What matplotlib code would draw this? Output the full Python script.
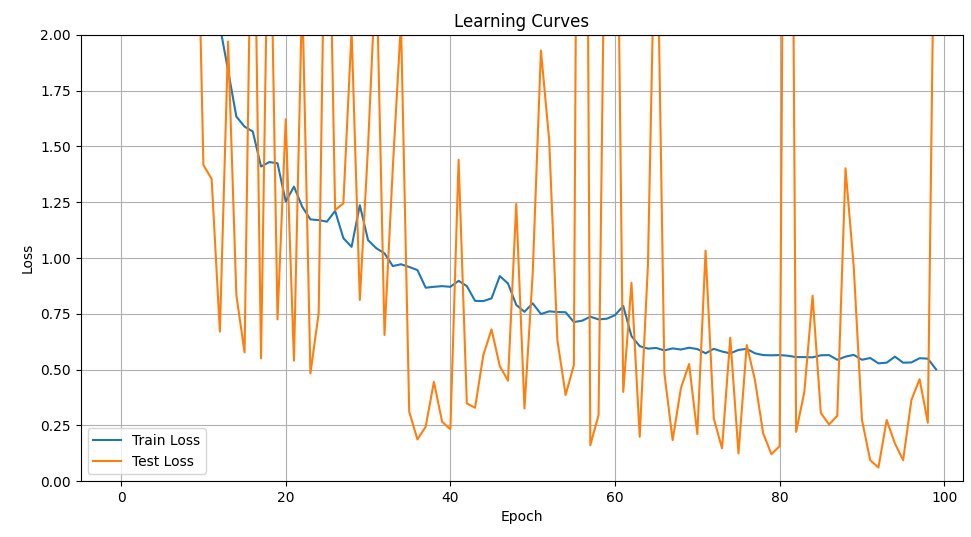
import matplotlib
matplotlib.use("Agg")
import matplotlib.pyplot as plt
import numpy as np

# per-epoch losses (values above 2 are clipped by the y-limit)
train_loss = [4.80, 4.10, 3.70, 3.30, 3.00, 2.80, 2.60, 2.50, 2.40, 2.30,
              2.20, 2.12, 2.04, 1.84, 1.634, 1.589, 1.567, 1.41, 1.43, 1.425,
              1.253, 1.32, 1.23, 1.173, 1.17, 1.163, 1.211, 1.089, 1.05, 1.237,
              1.08, 1.044, 1.021, 0.964, 0.972, 0.96, 0.946, 0.867, 0.871, 0.874,
              0.871, 0.898, 0.874, 0.808, 0.807, 0.819, 0.919, 0.886, 0.79, 0.759,
              0.797, 0.749, 0.761, 0.758, 0.757, 0.713, 0.719, 0.737, 0.725, 0.728,
              0.744, 0.785, 0.65, 0.605, 0.594, 0.597, 0.586, 0.595, 0.59, 0.598,
              0.592, 0.573, 0.593, 0.581, 0.573, 0.588, 0.593, 0.573, 0.565, 0.564,
              0.565, 0.562, 0.556, 0.556, 0.555, 0.564, 0.565, 0.544, 0.558, 0.566,
              0.544, 0.552, 0.528, 0.531, 0.558, 0.531, 0.532, 0.551, 0.549, 0.501]

test_loss = [6.50, 5.20, 7.80, 4.90, 5.60, 3.80, 6.10, 4.40, 3.50, 3.10,
             1.417, 1.354, 0.67, 1.97, 0.834, 0.577, 3.10, 0.55, 2.90, 0.725,
             1.622, 0.54, 2.20, 0.483, 0.752, 3.20, 1.215, 1.245, 2.02, 0.812,
             1.50, 2.33, 0.655, 1.40, 2.06, 0.311, 0.187, 0.244, 0.445, 0.266,
             0.233, 1.44, 0.348, 0.329, 0.565, 0.68, 0.516, 0.45, 1.242, 0.326,
             0.93, 1.93, 1.53, 0.632, 0.386, 0.52, 7.00, 0.161, 0.296, 3.30,
             3.60, 0.40, 0.889, 0.199, 0.97, 2.80, 0.483, 0.184, 0.416, 0.525,
             0.211, 1.033, 0.281, 0.147, 0.643, 0.124, 0.61, 0.453, 0.214, 0.121,
             0.157, 6.00, 0.221, 0.40, 0.831, 0.306, 0.254, 0.293, 1.402, 0.96,
             0.274, 0.094, 0.061, 0.274, 0.169, 0.094, 0.363, 0.457, 0.262, 3.20]

epochs = np.arange(len(train_loss))

fig, ax = plt.subplots(figsize=(9.71, 5.37), dpi=100)
fig.subplots_adjust(left=0.083, right=0.992, top=0.935, bottom=0.104)

ax.plot(epochs, train_loss, label="Train Loss")
ax.plot(epochs, test_loss, label="Test Loss")
ax.set_xlim(-4.92, 102.3)
ax.set_ylim(0, 2)
ax.set_xlabel("Epoch")
ax.set_ylabel("Loss")
ax.set_title("Learning Curves")
ax.legend(loc="lower left")
ax.grid(True)

fig.savefig("out.png", dpi=100)
